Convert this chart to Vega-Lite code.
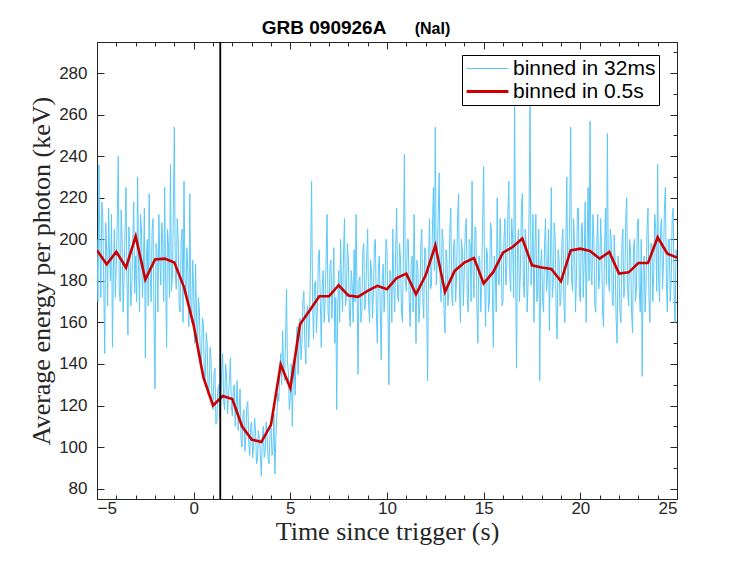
{
  "$schema": "https://vega.github.io/schema/vega-lite/v6.json",
  "width": 580,
  "height": 457,
  "autosize": "none",
  "padding": {"left": 97, "top": 42, "right": 70, "bottom": 62},
  "background": "white",
  "config": {
    "view": {"stroke": null},
    "axis": {
      "grid": false,
      "domainColor": "#262626",
      "tickColor": "#262626",
      "tickWidth": 1,
      "labelFont": "Liberation Sans",
      "labelFontSize": 17,
      "labelColor": "#262626",
      "titleFont": "Liberation Serif",
      "titleFontSize": 26,
      "titleFontWeight": "normal",
      "titleColor": "#262626"
    },
    "legend": {
      "orient": "none",
      "legendX": 365,
      "legendY": 13,
      "title": null,
      "strokeColor": "black",
      "fillColor": "white",
      "padding": 3,
      "cornerRadius": 0,
      "symbolType": "stroke",
      "symbolSize": 1750,
      "symbolOffset": 12,
      "labelFont": "Liberation Sans",
      "labelFontSize": 21,
      "labelColor": "black",
      "labelOffset": 15,
      "rowPadding": 1,
      "labelLimit": 300
    }
  },
  "datasets": {
    "fine": [
      {"t":-5.0,"e":200},{"t":-4.95,"e":170},{"t":-4.9,"e":236},{"t":-4.85,"e":195},{"t":-4.8,"e":172},{"t":-4.75,"e":218},{"t":-4.7,"e":210},{"t":-4.65,"e":178},{"t":-4.6,"e":145},{"t":-4.55,"e":208},{"t":-4.5,"e":195},{"t":-4.45,"e":168},{"t":-4.4,"e":215},{"t":-4.35,"e":192},{"t":-4.3,"e":180},{"t":-4.25,"e":212},{"t":-4.2,"e":148},{"t":-4.15,"e":185},{"t":-4.1,"e":205},{"t":-4.05,"e":172},
      {"t":-4.0,"e":188},{"t":-3.95,"e":210},{"t":-3.9,"e":240},{"t":-3.85,"e":176},{"t":-3.8,"e":170},{"t":-3.75,"e":214},{"t":-3.7,"e":200},{"t":-3.65,"e":165},{"t":-3.6,"e":182},{"t":-3.55,"e":205},{"t":-3.5,"e":225},{"t":-3.45,"e":180},{"t":-3.4,"e":154},{"t":-3.35,"e":206},{"t":-3.3,"e":196},{"t":-3.25,"e":168},{"t":-3.2,"e":176},{"t":-3.15,"e":200},{"t":-3.1,"e":218},{"t":-3.05,"e":174},
      {"t":-3.0,"e":192},{"t":-2.95,"e":170},{"t":-2.9,"e":230},{"t":-2.85,"e":188},{"t":-2.8,"e":165},{"t":-2.75,"e":212},{"t":-2.7,"e":205},{"t":-2.65,"e":172},{"t":-2.6,"e":186},{"t":-2.55,"e":215},{"t":-2.5,"e":143},{"t":-2.45,"e":190},{"t":-2.4,"e":200},{"t":-2.35,"e":168},{"t":-2.3,"e":222},{"t":-2.25,"e":184},{"t":-2.2,"e":170},{"t":-2.15,"e":204},{"t":-2.1,"e":210},{"t":-2.05,"e":160},
      {"t":-2.0,"e":128},{"t":-1.95,"e":198},{"t":-1.9,"e":195},{"t":-1.85,"e":165},{"t":-1.8,"e":212},{"t":-1.75,"e":190},{"t":-1.7,"e":178},{"t":-1.65,"e":208},{"t":-1.6,"e":200},{"t":-1.55,"e":170},{"t":-1.5,"e":225},{"t":-1.45,"e":180},{"t":-1.4,"e":148},{"t":-1.35,"e":205},{"t":-1.3,"e":196},{"t":-1.25,"e":172},{"t":-1.2,"e":236},{"t":-1.15,"e":175},{"t":-1.1,"e":182},{"t":-1.05,"e":214},
      {"t":-1.0,"e":254},{"t":-0.95,"e":184},{"t":-0.9,"e":176},{"t":-0.85,"e":210},{"t":-0.8,"e":200},{"t":-0.75,"e":168},{"t":-0.7,"e":165},{"t":-0.65,"e":198},{"t":-0.6,"e":205},{"t":-0.55,"e":160},{"t":-0.5,"e":228},{"t":-0.45,"e":182},{"t":-0.4,"e":172},{"t":-0.35,"e":196},{"t":-0.3,"e":185},{"t":-0.25,"e":158},{"t":-0.2,"e":222},{"t":-0.15,"e":170},{"t":-0.1,"e":160},{"t":-0.05,"e":190},
      {"t":0.0,"e":175},{"t":0.05,"e":150},{"t":0.1,"e":188},{"t":0.15,"e":162},{"t":0.2,"e":150},{"t":0.25,"e":172},{"t":0.3,"e":165},{"t":0.35,"e":138},{"t":0.4,"e":140},{"t":0.45,"e":162},{"t":0.5,"e":160},{"t":0.55,"e":135},{"t":0.6,"e":132},{"t":0.65,"e":155},{"t":0.7,"e":150},{"t":0.75,"e":125},{"t":0.8,"e":128},{"t":0.85,"e":148},{"t":0.9,"e":142},{"t":0.95,"e":122},
      {"t":1.0,"e":118},{"t":1.05,"e":135},{"t":1.1,"e":138},{"t":1.15,"e":111},{"t":1.2,"e":112},{"t":1.25,"e":128},{"t":1.3,"e":130},{"t":1.35,"e":114},{"t":1.4,"e":120},{"t":1.45,"e":136},{"t":1.5,"e":145},{"t":1.55,"e":122},{"t":1.6,"e":118},{"t":1.65,"e":140},{"t":1.7,"e":135},{"t":1.75,"e":116},{"t":1.8,"e":124},{"t":1.85,"e":132},{"t":1.9,"e":143},{"t":1.95,"e":120},
      {"t":2.0,"e":115},{"t":2.05,"e":128},{"t":2.1,"e":130},{"t":2.15,"e":110},{"t":2.2,"e":120},{"t":2.25,"e":132},{"t":2.3,"e":108},{"t":2.35,"e":118},{"t":2.4,"e":128},{"t":2.45,"e":104},{"t":2.5,"e":100},{"t":2.55,"e":115},{"t":2.6,"e":118},{"t":2.65,"e":98},{"t":2.7,"e":105},{"t":2.75,"e":120},{"t":2.8,"e":122},{"t":2.85,"e":102},{"t":2.9,"e":96},{"t":2.95,"e":110},
      {"t":3.0,"e":112},{"t":3.05,"e":95},{"t":3.1,"e":100},{"t":3.15,"e":114},{"t":3.2,"e":108},{"t":3.25,"e":92},{"t":3.3,"e":94},{"t":3.35,"e":108},{"t":3.4,"e":104},{"t":3.45,"e":96},{"t":3.5,"e":86},{"t":3.55,"e":104},{"t":3.6,"e":110},{"t":3.65,"e":95},{"t":3.7,"e":98},{"t":3.75,"e":112},{"t":3.8,"e":106},{"t":3.85,"e":94},{"t":3.9,"e":92},{"t":3.95,"e":108},
      {"t":4.0,"e":112},{"t":4.05,"e":96},{"t":4.1,"e":98},{"t":4.15,"e":116},{"t":4.2,"e":87},{"t":4.25,"e":104},{"t":4.3,"e":115},{"t":4.35,"e":126},{"t":4.4,"e":122},{"t":4.45,"e":135},{"t":4.5,"e":145},{"t":4.55,"e":130},{"t":4.6,"e":156},{"t":4.65,"e":138},{"t":4.7,"e":132},{"t":4.75,"e":150},{"t":4.8,"e":176},{"t":4.85,"e":142},{"t":4.9,"e":135},{"t":4.95,"e":118},
      {"t":5.0,"e":125},{"t":5.05,"e":140},{"t":5.1,"e":110},{"t":5.15,"e":132},{"t":5.2,"e":140},{"t":5.25,"e":125},{"t":5.3,"e":148},{"t":5.35,"e":158},{"t":5.4,"e":135},{"t":5.45,"e":150},{"t":5.5,"e":162},{"t":5.55,"e":142},{"t":5.6,"e":150},{"t":5.65,"e":170},{"t":5.7,"e":175},{"t":5.75,"e":150},{"t":5.8,"e":140},{"t":5.85,"e":165},{"t":5.9,"e":168},{"t":5.95,"e":148},
      {"t":6.0,"e":165},{"t":6.05,"e":190},{"t":6.1,"e":228},{"t":6.15,"e":170},{"t":6.2,"e":152},{"t":6.25,"e":178},{"t":6.3,"e":180},{"t":6.35,"e":155},{"t":6.4,"e":166},{"t":6.45,"e":192},{"t":6.5,"e":195},{"t":6.55,"e":170},{"t":6.6,"e":148},{"t":6.65,"e":178},{"t":6.7,"e":185},{"t":6.75,"e":160},{"t":6.8,"e":170},{"t":6.85,"e":190},{"t":6.9,"e":212},{"t":6.95,"e":165},
      {"t":7.0,"e":160},{"t":7.05,"e":188},{"t":7.1,"e":190},{"t":7.15,"e":162},{"t":7.2,"e":175},{"t":7.25,"e":196},{"t":7.3,"e":150},{"t":7.35,"e":172},{"t":7.4,"e":118},{"t":7.45,"e":168},{"t":7.5,"e":185},{"t":7.55,"e":160},{"t":7.6,"e":200},{"t":7.65,"e":178},{"t":7.7,"e":165},{"t":7.75,"e":192},{"t":7.8,"e":210},{"t":7.85,"e":168},{"t":7.9,"e":172},{"t":7.95,"e":198},
      {"t":8.0,"e":190},{"t":8.05,"e":165},{"t":8.1,"e":158},{"t":8.15,"e":185},{"t":8.2,"e":178},{"t":8.25,"e":160},{"t":8.3,"e":195},{"t":8.35,"e":170},{"t":8.4,"e":212},{"t":8.45,"e":176},{"t":8.5,"e":135},{"t":8.55,"e":180},{"t":8.6,"e":182},{"t":8.65,"e":160},{"t":8.7,"e":165},{"t":8.75,"e":195},{"t":8.8,"e":198},{"t":8.85,"e":166},{"t":8.9,"e":170},{"t":8.95,"e":192},
      {"t":9.0,"e":205},{"t":9.05,"e":168},{"t":9.1,"e":160},{"t":9.15,"e":190},{"t":9.2,"e":185},{"t":9.25,"e":162},{"t":9.3,"e":175},{"t":9.35,"e":198},{"t":9.4,"e":200},{"t":9.45,"e":165},{"t":9.5,"e":150},{"t":9.55,"e":185},{"t":9.6,"e":192},{"t":9.65,"e":168},{"t":9.7,"e":142},{"t":9.75,"e":180},{"t":9.8,"e":188},{"t":9.85,"e":165},{"t":9.9,"e":178},{"t":9.95,"e":200},
      {"t":10.0,"e":195},{"t":10.05,"e":165},{"t":10.1,"e":130},{"t":10.15,"e":185},{"t":10.2,"e":182},{"t":10.25,"e":160},{"t":10.3,"e":205},{"t":10.35,"e":178},{"t":10.4,"e":165},{"t":10.45,"e":195},{"t":10.5,"e":215},{"t":10.55,"e":172},{"t":10.6,"e":170},{"t":10.65,"e":198},{"t":10.7,"e":190},{"t":10.75,"e":165},{"t":10.8,"e":160},{"t":10.85,"e":195},{"t":10.9,"e":241},{"t":10.95,"e":180},
      {"t":11.0,"e":175},{"t":11.05,"e":200},{"t":11.1,"e":200},{"t":11.15,"e":170},{"t":11.2,"e":158},{"t":11.25,"e":188},{"t":11.3,"e":192},{"t":11.35,"e":165},{"t":11.4,"e":212},{"t":11.45,"e":180},{"t":11.5,"e":150},{"t":11.55,"e":190},{"t":11.6,"e":185},{"t":11.65,"e":160},{"t":11.7,"e":168},{"t":11.75,"e":198},{"t":11.8,"e":205},{"t":11.85,"e":172},{"t":11.9,"e":162},{"t":11.95,"e":196},
      {"t":12.0,"e":195},{"t":12.05,"e":170},{"t":12.1,"e":132},{"t":12.15,"e":190},{"t":12.2,"e":210},{"t":12.25,"e":176},{"t":12.3,"e":178},{"t":12.35,"e":205},{"t":12.4,"e":225},{"t":12.45,"e":185},{"t":12.5,"e":254},{"t":12.55,"e":178},{"t":12.6,"e":190},{"t":12.65,"e":212},{"t":12.7,"e":232},{"t":12.75,"e":180},{"t":12.8,"e":170},{"t":12.85,"e":205},{"t":12.9,"e":200},{"t":12.95,"e":165},
      {"t":13.0,"e":155},{"t":13.05,"e":195},{"t":13.1,"e":190},{"t":13.15,"e":168},{"t":13.2,"e":175},{"t":13.25,"e":205},{"t":13.3,"e":215},{"t":13.35,"e":172},{"t":13.4,"e":168},{"t":13.45,"e":198},{"t":13.5,"e":200},{"t":13.55,"e":170},{"t":13.6,"e":182},{"t":13.65,"e":210},{"t":13.7,"e":222},{"t":13.75,"e":175},{"t":13.8,"e":160},{"t":13.85,"e":200},{"t":13.9,"e":195},{"t":13.95,"e":168},
      {"t":14.0,"e":185},{"t":14.05,"e":205},{"t":14.1,"e":210},{"t":14.15,"e":172},{"t":14.2,"e":165},{"t":14.25,"e":200},{"t":14.3,"e":198},{"t":14.35,"e":170},{"t":14.4,"e":228},{"t":14.45,"e":185},{"t":14.5,"e":172},{"t":14.55,"e":206},{"t":14.6,"e":205},{"t":14.65,"e":168},{"t":14.7,"e":150},{"t":14.75,"e":192},{"t":14.8,"e":190},{"t":14.85,"e":165},{"t":14.9,"e":180},{"t":14.95,"e":210},
      {"t":15.0,"e":235},{"t":15.05,"e":180},{"t":15.1,"e":158},{"t":15.15,"e":196},{"t":15.2,"e":192},{"t":15.25,"e":165},{"t":15.3,"e":170},{"t":15.35,"e":208},{"t":15.4,"e":205},{"t":15.45,"e":175},{"t":15.5,"e":148},{"t":15.55,"e":192},{"t":15.6,"e":185},{"t":15.65,"e":165},{"t":15.7,"e":220},{"t":15.75,"e":182},{"t":15.8,"e":178},{"t":15.85,"e":210},{"t":15.9,"e":196},{"t":15.95,"e":168},
      {"t":16.0,"e":170},{"t":16.05,"e":200},{"t":16.1,"e":210},{"t":16.15,"e":178},{"t":16.2,"e":188},{"t":16.25,"e":212},{"t":16.3,"e":228},{"t":16.35,"e":182},{"t":16.4,"e":175},{"t":16.45,"e":210},{"t":16.5,"e":200},{"t":16.55,"e":172},{"t":16.6,"e":270},{"t":16.65,"e":185},{"t":16.7,"e":138},{"t":16.75,"e":196},{"t":16.8,"e":205},{"t":16.85,"e":170},{"t":16.9,"e":185},{"t":16.95,"e":215},
      {"t":17.0,"e":222},{"t":17.05,"e":180},{"t":17.1,"e":172},{"t":17.15,"e":205},{"t":17.2,"e":198},{"t":17.25,"e":165},{"t":17.3,"e":180},{"t":17.35,"e":215},{"t":17.4,"e":268},{"t":17.45,"e":178},{"t":17.5,"e":190},{"t":17.55,"e":212},{"t":17.6,"e":160},{"t":17.65,"e":195},{"t":17.7,"e":212},{"t":17.75,"e":170},{"t":17.8,"e":176},{"t":17.85,"e":205},{"t":17.9,"e":132},{"t":17.95,"e":188},
      {"t":18.0,"e":195},{"t":18.05,"e":170},{"t":18.1,"e":165},{"t":18.15,"e":198},{"t":18.2,"e":210},{"t":18.25,"e":175},{"t":18.3,"e":182},{"t":18.35,"e":205},{"t":18.4,"e":156},{"t":18.45,"e":190},{"t":18.5,"e":225},{"t":18.55,"e":172},{"t":18.6,"e":178},{"t":18.65,"e":208},{"t":18.7,"e":200},{"t":18.75,"e":165},{"t":18.8,"e":152},{"t":18.85,"e":195},{"t":18.9,"e":190},{"t":18.95,"e":168},
      {"t":19.0,"e":172},{"t":19.05,"e":200},{"t":19.1,"e":205},{"t":19.15,"e":170},{"t":19.2,"e":160},{"t":19.25,"e":198},{"t":19.3,"e":230},{"t":19.35,"e":178},{"t":19.4,"e":186},{"t":19.45,"e":212},{"t":19.5,"e":254},{"t":19.55,"e":180},{"t":19.6,"e":175},{"t":19.65,"e":210},{"t":19.7,"e":198},{"t":19.75,"e":165},{"t":19.8,"e":182},{"t":19.85,"e":215},{"t":19.9,"e":215},{"t":19.95,"e":175},
      {"t":20.0,"e":170},{"t":20.05,"e":205},{"t":20.1,"e":208},{"t":20.15,"e":172},{"t":20.2,"e":190},{"t":20.25,"e":218},{"t":20.3,"e":160},{"t":20.35,"e":195},{"t":20.4,"e":225},{"t":20.45,"e":180},{"t":20.5,"e":257},{"t":20.55,"e":185},{"t":20.6,"e":178},{"t":20.65,"e":212},{"t":20.7,"e":200},{"t":20.75,"e":168},{"t":20.8,"e":165},{"t":20.85,"e":198},{"t":20.9,"e":212},{"t":20.95,"e":176},
      {"t":21.0,"e":182},{"t":21.05,"e":210},{"t":21.1,"e":196},{"t":21.15,"e":165},{"t":21.2,"e":158},{"t":21.25,"e":195},{"t":21.3,"e":215},{"t":21.35,"e":178},{"t":21.4,"e":251},{"t":21.45,"e":182},{"t":21.5,"e":175},{"t":21.55,"e":205},{"t":21.6,"e":200},{"t":21.65,"e":170},{"t":21.7,"e":168},{"t":21.75,"e":202},{"t":21.8,"e":190},{"t":21.85,"e":162},{"t":21.9,"e":150},{"t":21.95,"e":192},
      {"t":22.0,"e":185},{"t":22.05,"e":165},{"t":22.1,"e":160},{"t":22.15,"e":198},{"t":22.2,"e":205},{"t":22.25,"e":172},{"t":22.3,"e":178},{"t":22.35,"e":210},{"t":22.4,"e":220},{"t":22.45,"e":175},{"t":22.5,"e":168},{"t":22.55,"e":200},{"t":22.6,"e":195},{"t":22.65,"e":165},{"t":22.7,"e":155},{"t":22.75,"e":196},{"t":22.8,"e":200},{"t":22.85,"e":170},{"t":22.9,"e":175},{"t":22.95,"e":208},
      {"t":23.0,"e":210},{"t":23.05,"e":175},{"t":23.1,"e":165},{"t":23.15,"e":200},{"t":23.2,"e":134},{"t":23.25,"e":185},{"t":23.3,"e":192},{"t":23.35,"e":165},{"t":23.4,"e":178},{"t":23.45,"e":205},{"t":23.5,"e":215},{"t":23.55,"e":172},{"t":23.6,"e":160},{"t":23.65,"e":198},{"t":23.7,"e":198},{"t":23.75,"e":170},{"t":23.8,"e":185},{"t":23.85,"e":212},{"t":23.9,"e":205},{"t":23.95,"e":175},
      {"t":24.0,"e":236},{"t":24.05,"e":180},{"t":24.1,"e":170},{"t":24.15,"e":205},{"t":24.2,"e":210},{"t":24.25,"e":176},{"t":24.3,"e":188},{"t":24.35,"e":215},{"t":24.4,"e":225},{"t":24.45,"e":180},{"t":24.5,"e":165},{"t":24.55,"e":200},{"t":24.6,"e":200},{"t":24.65,"e":170},{"t":24.7,"e":180},{"t":24.75,"e":210},{"t":24.8,"e":215},{"t":24.85,"e":175},{"t":24.9,"e":160},{"t":24.95,"e":195},
      {"t":25.0,"e":190}
    ],
    "coarse": [
      {"t": -5, "e": 194.7}, {"t": -4.5, "e": 188}, {"t": -4, "e": 194}, {"t": -3.5, "e": 186.4}, {"t": -3, "e": 201.5}, {"t": -2.5, "e": 180.6}, {"t": -2, "e": 190.3}, {"t": -1.5, "e": 190.7}, {"t": -1, "e": 188.8}, {"t": -0.5, "e": 177},
      {"t": 0, "e": 158.6}, {"t": 0.5, "e": 133.7}, {"t": 1, "e": 120}, {"t": 1.5, "e": 124.6}, {"t": 2, "e": 123.1}, {"t": 2.5, "e": 110}, {"t": 3, "e": 103.6}, {"t": 3.5, "e": 102.4}, {"t": 4, "e": 110.8}, {"t": 4.5, "e": 139.7},
      {"t": 5, "e": 128.4}, {"t": 5.5, "e": 159.1}, {"t": 6, "e": 165.8}, {"t": 6.5, "e": 172.6}, {"t": 7, "e": 172.6}, {"t": 7.5, "e": 177.9}, {"t": 8, "e": 173}, {"t": 8.5, "e": 172.3}, {"t": 9, "e": 175.2}, {"t": 9.5, "e": 177.6},
      {"t": 10, "e": 176}, {"t": 10.5, "e": 181.4}, {"t": 11, "e": 183.5}, {"t": 11.5, "e": 173.5}, {"t": 12, "e": 182.7}, {"t": 12.5, "e": 197.1}, {"t": 13, "e": 174.7}, {"t": 13.5, "e": 184.8}, {"t": 14, "e": 188.8}, {"t": 14.5, "e": 191},
      {"t": 15, "e": 178.8}, {"t": 15.5, "e": 184.3}, {"t": 16, "e": 193.6}, {"t": 16.5, "e": 196.3}, {"t": 17, "e": 200.4}, {"t": 17.5, "e": 187.5}, {"t": 18, "e": 186.4}, {"t": 18.5, "e": 185.7}, {"t": 19, "e": 179.8}, {"t": 19.5, "e": 194.7},
      {"t": 20, "e": 195.5}, {"t": 20.5, "e": 194.4}, {"t": 21, "e": 190.7}, {"t": 21.5, "e": 193.9}, {"t": 22, "e": 183.5}, {"t": 22.5, "e": 184.1}, {"t": 23, "e": 188.6}, {"t": 23.5, "e": 188.6}, {"t": 24, "e": 201}, {"t": 24.5, "e": 193.1},
      {"t": 25, "e": 191.2}
    ],
    "trigger": [{"t": 1.38}]
  },
  "resolve": {"axis": {"x": "independent", "y": "independent"}},
  "layer": [
    {
      "data": {"name": "fine"},
      "mark": {"type": "line", "strokeWidth": 1, "clip": true},
      "encoding": {
        "x": {
          "field": "t", "type": "quantitative",
          "scale": {"domain": [-5, 25], "nice": false, "zero": false},
          "axis": {"orient": "bottom", "values": [-5, 0, 5, 10, 15, 20, 25], "tickSize": -7, "labelPadding": 8, "title": "Time since trigger (s)", "titlePadding": 2}
        },
        "y": {
          "field": "e", "type": "quantitative",
          "scale": {"domain": [75, 295], "nice": false, "zero": false},
          "axis": {"orient": "left", "values": [80, 100, 120, 140, 160, 180, 200, 220, 240, 260, 280], "tickSize": -7, "labelPadding": 17, "title": "Average energy per photon (keV)", "titlePadding": 4}
        },
        "color": {
          "datum": "binned in 32ms",
          "scale": {"domain": ["binned in 32ms", "binned in 0.5s"], "range": ["#5cc8f7", "#cc0000"]},
          "legend": {
            "encode": {"symbols": {"update": {"strokeWidth": {"signal": "datum.value === 'binned in 0.5s' ? 2.8 : 1.2"}}}}
          }
        }
      }
    },
    {
      "data": {"name": "coarse"},
      "mark": {"type": "line", "strokeWidth": 2.6, "clip": true},
      "encoding": {
        "x": {
          "field": "t", "type": "quantitative",
          "axis": {"orient": "top", "values": [-5, 0, 5, 10, 15, 20, 25], "tickSize": -7, "labels": false, "title": "GRB 090926A", "titleFont": "Liberation Sans", "titleFontSize": 19, "titleFontWeight": "bold", "titleColor": "black", "titleX": 226.6, "titleY": -8.7, "titleBaseline": "alphabetic", "titleAlign": "center"}
        },
        "y": {
          "field": "e", "type": "quantitative",
          "axis": {"orient": "right", "values": [80, 100, 120, 140, 160, 180, 200, 220, 240, 260, 280], "tickSize": -7, "labels": false, "title": null}
        },
        "color": {"datum": "binned in 0.5s"}
      }
    },
    {
      "data": {"name": "trigger"},
      "mark": {"type": "rule", "color": "black", "strokeWidth": 1.5},
      "encoding": {
        "x": {
          "field": "t", "type": "quantitative",
          "axis": {"orient": "bottom", "values": [-4, -3, -2, -1, 1, 2, 3, 4, 6, 7, 8, 9, 11, 12, 13, 14, 16, 17, 18, 19, 21, 22, 23, 24], "tickSize": -4, "labels": false, "title": null}
        }
      }
    },
    {
      "data": {"name": "trigger"},
      "mark": {"type": "rule", "color": "black", "strokeWidth": 1.5},
      "encoding": {
        "x": {
          "field": "t", "type": "quantitative",
          "axis": {"orient": "top", "values": [-4, -3, -2, -1, 1, 2, 3, 4, 6, 7, 8, 9, 11, 12, 13, 14, 16, 17, 18, 19, 21, 22, 23, 24], "tickSize": -4, "labels": false, "title": "(NaI)", "titleFont": "Liberation Sans", "titleFontSize": 16, "titleFontWeight": "bold", "titleColor": "black", "titleX": 335, "titleY": -8.7, "titleBaseline": "alphabetic", "titleAlign": "center"}
        },
        "y": {
          "datum": 75, "type": "quantitative",
          "axis": {"orient": "right", "values": [90, 110, 130, 150, 170, 190, 210, 230, 250, 270, 290], "tickSize": -4, "labels": false, "title": null}
        },
        "y2": {"datum": 295}
      }
    }
  ]
}
